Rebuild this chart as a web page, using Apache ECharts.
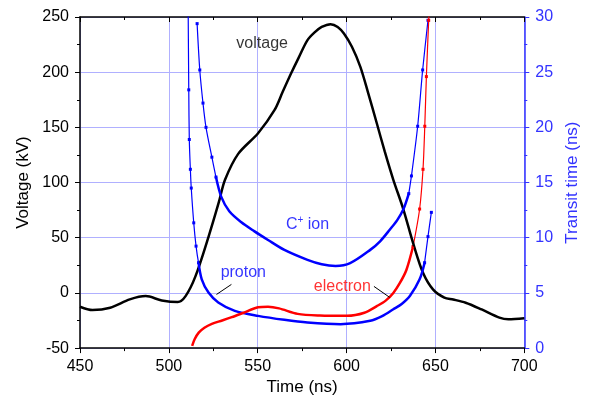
<!DOCTYPE html>
<html>
<head>
<meta charset="utf-8">
<script src="https://cdn.jsdelivr.net/npm/echarts@6/dist/echarts.min.js"></script>
<style>html,body{margin:0;padding:0;background:#fff;}#c{width:589px;height:401px;}</style>
</head>
<body>
<div id="c"></div>
<script>
// ---- data (time ns, value) ----
const xTicks = [450, 500, 550, 600, 650, 700];
const voltage = [[450,-12.5],[457,-15.5],[467,-13.4],[478,-5.9],[487,-2.9],[496,-6.8],[505,-8.3],[509.4,-2.9],[515,15.2],[522.4,51.3],[528,81.5],[531.6,102.5],[539,126],[550.2,144.7],[559.5,165.8],[564,182],[568.8,199],[573,213],[578,229],[582,236],[586,241],[591,243.5],[595,241],[598.5,235],[603,223],[607.7,205],[612,182],[617,153.7],[621.5,128],[626.3,102.5],[631.9,76],[637.4,45.3],[643,18.2],[648.6,3.2],[655,-4.3],[660,-6],[667,-8.9],[676,-15],[686,-22.4],[691,-23.9],[700,-23]];
const protonSteepL = [[510.8,32],[511.2,23.4],[511.5,18.9],[512.1,16.2],[512.6,14.5],[514.0,11.35],[515.3,9.24],[516.7,7.74]];
const protonMain = [[516.7,7.74],[518.5,6.23],[522.3,5.03],[527.8,4.13],[537.1,3.37],[550.2,2.92],[565,2.56],[578,2.32],[596.6,2.17],[613.3,2.47],[620,2.9],[626.3,3.52],[631,4.0],[635.6,4.72],[641.1,6.23],[643.9,7.74]];
const protonSteepR = [[643.9,7.74],[645.8,10.1],[647.7,12.3]];
const cionSteepL = [[515.9,29.4],[517.4,25.2],[519.2,22.2],[520.9,20.0],[524.2,17.3],[526.5,15.5]];
const cionMain = [[526.5,15.5],[529.5,13.7],[534,12.4],[540.8,11.4],[548,10.6],[555.8,9.8],[565,8.9],[578,8.0],[586,7.6],[593.8,7.45],[602,7.7],[613.3,8.9],[619,9.7],[624.4,10.75],[628.5,11.6],[631.9,12.55],[635,14.0]];
const cionSteepR = [[635,14.0],[636.5,15.6],[640.0,20.1],[642.8,25.2],[645.8,29.7]];
const elecMain = [[513.1,0.2],[514.5,0.8],[516.8,1.4],[520,1.85],[524.2,2.2],[530,2.5],[535.4,2.8],[542,3.2],[550.2,3.7],[555.8,3.75],[562,3.6],[572.5,3.1],[585,2.95],[600.3,2.92],[610,3.2],[617,3.8],[622,4.3],[626.3,5.0],[630,5.9],[633.7,7.1],[637.4,9.2]];
const elecSteep = [[637.4,9.2],[641.1,12.6],[643,16.2],[644,20.1],[644.9,24.6],[646.2,29.7],[646.4,30.5]];
// annotation positions (time, kV)
const labels = [
  {text:'voltage', pos:[552.5,226.3], color:'#000'},
  {text:'{a|C}{s|+}{a| ion}', pos:[578,61.9], color:'#0000ff'},
  {text:'proton', pos:[541.9,18.5], color:'#0000ff'},
  {text:'electron', pos:[597.6,5.9], color:'#ff0000'}
];
const arrows = [
  [[535.2,7.7],[526.8,-1.4]],
  [[615.4,5.9],[624.3,-4.1]]
];

const FONT = 'Liberation Sans, Arial, sans-serif';
const BLUE = '#0000ff';
const GRIDC = '#b0b0ff';
const chart = echarts.init(document.getElementById('c'), null, {renderer:'canvas'});

function steep(data, color) {
  return {type:'line', yAxisIndex:1, data:data, smooth:0.3, clip:true,
    lineStyle:{color:color, width:1.2}, itemStyle:{color:color},
    symbol:'rect', symbolSize:3, showSymbol:true, animation:false, silent:true, z:3};
}
function main(data, color, yi) {
  return {type:'line', yAxisIndex:yi, data:data, smooth:0.3, clip:true,
    lineStyle:{color:color, width:2.5}, itemStyle:{color:color},
    symbol:'none', showSymbol:false, animation:false, silent:true, z:4};
}

const series = [
  main(voltage, '#000', 0),
  steep(protonSteepL, BLUE), main(protonMain, BLUE, 1), steep(protonSteepR, BLUE),
  steep(cionSteepL, BLUE), main(cionMain, BLUE, 1), steep(cionSteepR, BLUE),
  main(elecMain, '#ff0000', 1), steep(elecSteep, '#ff0000')
];
labels.forEach(l => {
  series.push({type:'scatter', yAxisIndex:0, data:[l.pos], symbolSize:1, silent:true, animation:false,
    itemStyle:{color:'rgba(0,0,0,0)'},
    label:{show:true, position:'inside', formatter:l.text, color:l.color, fontFamily:FONT, fontSize:16,
      rich:{a:{color:l.color, fontFamily:FONT, fontSize:16}, s:{color:l.color, fontFamily:FONT, fontSize:10, verticalAlign:'top', padding:[0,0,8,0]}}}});
});
series.push({type:'line', yAxisIndex:0, data:[], silent:true, animation:false,
  markLine:{silent:true, animation:false, symbol:['none','arrow'], symbolSize:[0,9],
    lineStyle:{color:'#000', width:1, type:'solid'}, label:{show:false},
    data: arrows.map(a => [{coord:a[0]},{coord:a[1]}])}});

chart.setOption({
  animation:false,
  backgroundColor:'#fff',
  grid:{left:80, right:60, top:17, bottom:52},
  xAxis:[{
    type:'value', min:450, max:700, interval:50, position:'bottom',
    name:'Time (ns)', nameLocation:'middle', nameGap:30,
    nameTextStyle:{fontFamily:FONT, fontSize:17, color:'#000'},
    axisLine:{show:true, onZero:false, lineStyle:{color:'#000', width:1.5}},
    axisTick:{show:true, inside:false, length:5, lineStyle:{color:'#000'}},
    minorTick:{show:true, splitNumber:2, length:3, lineStyle:{color:'#000'}},
    axisLabel:{fontFamily:FONT, fontSize:16, color:'#000', margin:10},
    splitLine:{show:true, lineStyle:{color:GRIDC, width:1}}
  },{
    type:'value', min:450, max:700, interval:50, position:'top',
    axisLine:{show:true, onZero:false, lineStyle:{color:'#000', width:1.5}},
    axisTick:{show:true, inside:true, length:5, lineStyle:{color:'#000'}},
    minorTick:{show:true, splitNumber:2, length:3, lineStyle:{color:'#000'}},
    axisLabel:{show:false}, splitLine:{show:false}
  }],
  yAxis:[{
    type:'value', min:-50, max:250, interval:50, position:'left',
    name:'Voltage (kV)', nameLocation:'middle', nameGap:48,
    nameTextStyle:{fontFamily:FONT, fontSize:17, color:'#000'},
    axisLine:{show:true, onZero:false, lineStyle:{color:'#000', width:1.5}},
    axisTick:{show:true, inside:false, length:5, lineStyle:{color:'#000'}},
    minorTick:{show:true, splitNumber:2, length:3, lineStyle:{color:'#000'}},
    axisLabel:{fontFamily:FONT, fontSize:16, color:'#000', margin:11},
    splitLine:{show:true, lineStyle:{color:GRIDC, width:1}}
  },{
    type:'value', min:0, max:30, interval:5, position:'right',
    name:'Transit time (ns)', nameLocation:'middle', nameGap:36,
    nameTextStyle:{fontFamily:FONT, fontSize:17, color:'#3333ff'},
    axisLine:{show:true, onZero:false, lineStyle:{color:'#3333ff', width:1.5}},
    axisTick:{show:true, inside:false, length:5, lineStyle:{color:'#3333ff'}},
    minorTick:{show:true, splitNumber:2, length:3, lineStyle:{color:'#3333ff'}},
    axisLabel:{fontFamily:FONT, fontSize:16, color:'#3333ff', margin:11},
    splitLine:{show:false}
  }],
  series: series
});
</script>
</body>
</html>
